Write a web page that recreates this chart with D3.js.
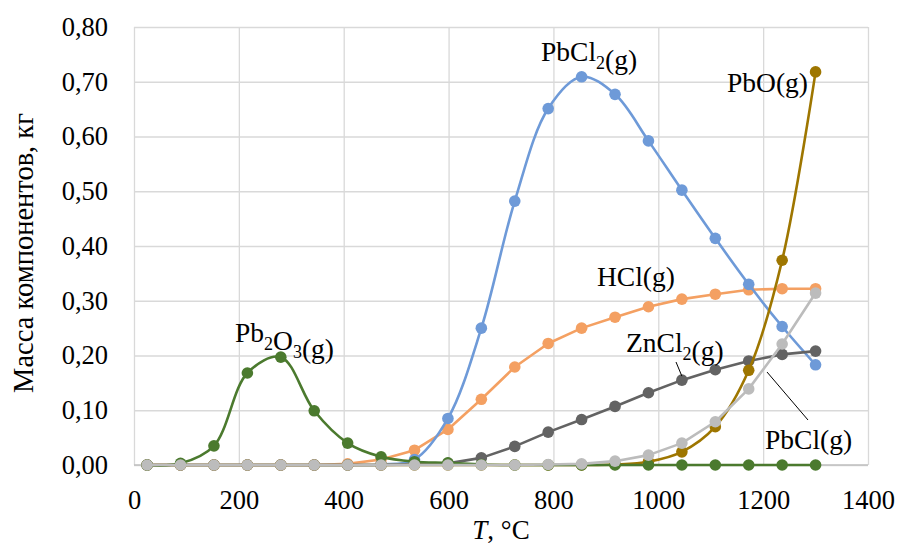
<!DOCTYPE html>
<html>
<head>
<meta charset="utf-8">
<script src="https://cdn.jsdelivr.net/npm/d3@7"></script>
<style>
  body { margin: 0; background: #fff; }
  text { font-family: "Liberation Serif", "Times New Roman", serif; fill: #000; }
</style>
</head>
<body>
<div id="chart"></div>
<script>
// data
var temps = [25, 88.75, 152.5, 216.25, 280, 343.75, 407.5, 471.25, 535, 598.75, 662.5,
             726.25, 790, 853.75, 917.5, 981.25, 1045, 1108.75, 1172.5, 1236.25, 1300];

var pbcl2 = [0, 0, 0, 0, 0, 0, 0, 0.001, 0.01, 0.085, 0.25, 0.482, 0.651, 0.709, 0.677,
             0.592, 0.502, 0.414, 0.330, 0.253, 0.183];
var hcl   = [0, 0, 0, 0, 0, 0, 0.002, 0.01, 0.027, 0.065, 0.12, 0.179, 0.222, 0.25, 0.27,
             0.289, 0.303, 0.312, 0.32, 0.322, 0.322];
var zncl2 = [0, 0, 0, 0, 0, 0, 0, 0, 0.001, 0.003, 0.013, 0.034, 0.06, 0.083, 0.107,
             0.132, 0.155, 0.174, 0.19, 0.202, 0.208];
var pbo   = [0, 0, 0, 0, 0, 0, 0, 0, 0, 0, 0, 0, 0, 0, 0.001,
             0.006, 0.024, 0.07, 0.173, 0.374, 0.718];
var pb2o3 = [0, 0.003, 0.035, 0.168, 0.197, 0.099, 0.04, 0.015, 0.006, 0.004, 0.001, 0, 0, 0, 0,
             0, 0, 0, 0, 0, 0];
var pbcl  = [0, 0, 0, 0, 0, 0, 0, 0, 0, 0, 0, 0, 0.001, 0.002, 0.007,
             0.018, 0.04, 0.079, 0.139, 0.221, 0.314];

var x_ticks = [0, 200, 400, 600, 800, 1000, 1200, 1400];
var y_ticks = [0, 0.1, 0.2, 0.3, 0.4, 0.5, 0.6, 0.7, 0.8];

// series (draw order), colours and smoothing
var series = [
  {name: 'HCl',   values: hcl,   color: '#f4a062', smooth: false},
  {name: 'PbCl2', values: pbcl2, color: '#6e9ad8', smooth: true},
  {name: 'ZnCl2', values: zncl2, color: '#636363', smooth: false},
  {name: 'PbO',   values: pbo,   color: '#9e7600', smooth: true},
  {name: 'Pb2O3', values: pb2o3, color: '#4b7a2e', smooth: true},
  {name: 'PbCl',  values: pbcl,  color: '#bcbcbc', smooth: false}
];

// sizes
var width_svg = 898, height_svg = 550,
    margin = {top: 27, right: 30, bottom: 85, left: 134},
    width = width_svg - margin.left - margin.right,
    height = height_svg - margin.top - margin.bottom;

var x = d3.scaleLinear().domain([0, 1400]).range([0, width]),
    y = d3.scaleLinear().domain([0, 0.8]).range([height, 0]);

var fmt = function(d) { return d3.format('.2f')(d).replace('.', ','); };

var svg = d3.select('#chart').append('svg')
    .attr('width', width_svg)
    .attr('height', height_svg)
  .append('g')
    .attr('transform', 'translate(' + margin.left + ',' + margin.top + ')');

// grid
svg.append('g')
    .call(d3.axisLeft(y).tickValues(y_ticks).tickSize(-width).tickFormat(''))
    .call(function(g) { g.select('.domain').remove(); })
    .selectAll('line').attr('stroke', '#d9d9d9').attr('stroke-width', 1.3);
svg.append('g')
    .attr('transform', 'translate(0,' + height + ')')
    .call(d3.axisBottom(x).tickValues(x_ticks).tickSize(-height).tickFormat(''))
    .call(function(g) { g.select('.domain').remove(); })
    .selectAll('line').attr('stroke', '#d9d9d9').attr('stroke-width', 1.3);
svg.append('line').attr('x1', 0).attr('x2', width).attr('y1', height).attr('y2', height)
    .attr('stroke', '#bfbfbf').attr('stroke-width', 1.5);

// tick labels
var y_axis = svg.append('g')
    .call(d3.axisLeft(y).tickValues(y_ticks).tickSize(0).tickPadding(26).tickFormat(fmt));
y_axis.select('.domain').remove();
y_axis.selectAll('text').style('font-family', '"Liberation Serif", serif').style('font-size', '26.5px')
    .attr('dy', '0.32em');

var x_axis = svg.append('g')
    .attr('transform', 'translate(0,' + height + ')')
    .call(d3.axisBottom(x).tickValues(x_ticks).tickSize(0).tickPadding(25).tickFormat(d3.format('d')));
x_axis.select('.domain').remove();
x_axis.selectAll('text').style('font-family', '"Liberation Serif", serif').style('font-size', '26.5px');

// axis titles
svg.append('text')
    .attr('transform', 'translate(' + (-101) + ',' + (253 - margin.top) + ') rotate(-90)')
    .attr('text-anchor', 'middle')
    .style('font-size', '28.5px')
    .text('Масса компонентов, кг');

var xt = svg.append('text')
    .attr('x', x(700)).attr('y', height + 74)
    .attr('text-anchor', 'middle')
    .style('font-size', '27px');
xt.append('tspan').style('font-style', 'italic').text('T');
xt.append('tspan').text(', °C');

// lines and points
var line_smooth = d3.line().x(function(d, i) { return x(temps[i]); }).y(function(d) { return y(d); })
    .curve(d3.curveCatmullRom.alpha(0.5));
var line_straight = d3.line().x(function(d, i) { return x(temps[i]); }).y(function(d) { return y(d); });

series.forEach(function(s) {
  var g = svg.append('g');
  g.append('path')
      .attr('d', (s.smooth ? line_smooth : line_straight)(s.values))
      .attr('fill', 'none')
      .attr('stroke', s.color)
      .attr('stroke-width', 2.6)
      .attr('stroke-linejoin', 'round');
  g.selectAll('circle').data(s.values).enter().append('circle')
      .attr('cx', function(d, i) { return x(temps[i]); })
      .attr('cy', function(d) { return y(d); })
      .attr('r', 5.8)
      .attr('fill', s.color);
});

// series labels
function label(px, py, parts, anchor) {
  var t = svg.append('text').attr('x', px).attr('y', py)
      .attr('text-anchor', anchor || 'start').style('font-size', '27.5px');
  parts.forEach(function(p) {
    if (p.sub) {
      t.append('tspan').attr('dy', 8).style('font-size', '18px').text(p.sub);
      t.append('tspan').attr('dy', -8).text('');
    } else {
      t.append('tspan').text(p.t);
    }
  });
  return t;
}

label(235 - margin.left, 342 - margin.top, [{t: 'Pb'}, {sub: '2'}, {t: 'O'}, {sub: '3'}, {t: '(g)'}]);
label(541 - margin.left, 61 - margin.top, [{t: 'PbCl'}, {sub: '2'}, {t: '(g)'}]);
label(808 - margin.left, 92 - margin.top, [{t: 'PbO(g)'}], 'end');
label(597 - margin.left, 286 - margin.top, [{t: 'HCl(g)'}]);
label(626 - margin.left, 352 - margin.top, [{t: 'ZnCl'}, {sub: '2'}, {t: '(g)'}]);
label(765 - margin.left, 449 - margin.top, [{t: 'PbCl(g)'}]);

// leader lines
svg.append('line')
    .attr('x1', 676 - margin.left).attr('y1', 362 - margin.top)
    .attr('x2', x(1045)).attr('y2', y(0.155) - 4)
    .attr('stroke', '#000').attr('stroke-width', 1);
svg.append('line')
    .attr('x1', 767 - margin.left).attr('y1', 372 - margin.top)
    .attr('x2', 808 - margin.left).attr('y2', 420 - margin.top)
    .attr('stroke', '#000').attr('stroke-width', 1);
</script>
</body>
</html>
